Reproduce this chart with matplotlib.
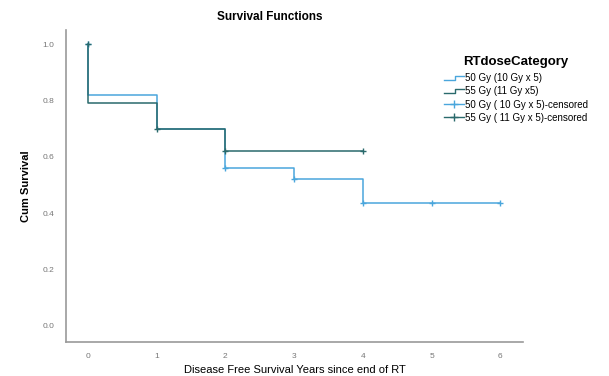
import matplotlib.pyplot as plt
from matplotlib.lines import Line2D
from matplotlib.legend_handler import HandlerBase

plt.rcParams['font.family'] = ['Liberation Sans', 'DejaVu Sans']

# Kaplan-Meier step data (time, survival after step)
t50 = [0, 0, 1, 2, 3, 4, 6]
s50 = [1.0, 0.82, 0.70, 0.56, 0.52, 0.435, 0.435]
t55 = [0, 0, 1, 2, 4]
s55 = [1.0, 0.79, 0.70, 0.62, 0.62]

# censored marks
c50_t = [0, 2, 3, 4, 5, 6]
c50_s = [1.0, 0.56, 0.52, 0.435, 0.435, 0.435]
c55_t = [0, 1, 2, 4]
c55_s = [1.0, 0.70, 0.62, 0.62]

labels = ["50 Gy (10 Gy x 5)", "55 Gy (11 Gy x5)",
          "50 Gy ( 10 Gy x 5)-censored", "55 Gy ( 11 Gy x 5)-censored"]

c_light = "#4aa6dc"
c_dark = "#2a6a6c"
grey = "#9a9a9a"


class StepHandler(HandlerBase):
    def create_artists(self, legend, orig, xd, yd, w, h, fs, trans):
        xs = [xd, xd + w * 0.55, xd + w * 0.55, xd + w]
        ys = [yd + h * 0.2, yd + h * 0.2, yd + h * 0.85, yd + h * 0.85]
        ln = Line2D(xs, ys, color=orig.get_color(), lw=1.0, transform=trans)
        return [ln]


fig = plt.figure(figsize=(6.09, 3.76), dpi=100)
ax = fig.add_axes([0.108, 0.0904, 0.751, 0.83])

ax.plot(t50, s50, drawstyle="steps-post", color=c_light, lw=1.1)
ax.plot(t55, s55, drawstyle="steps-post", color=c_dark, lw=1.1)
ax.plot(c50_t, c50_s, "+", color=c_light, ms=5, mew=1.0)
ax.plot(c55_t, c55_s, "+", color=c_dark, ms=5, mew=1.0)

ax.set_xlim(-0.32, 6.33)
ax.set_ylim(-0.057, 1.05)
ax.set_xticks(range(7))
ax.set_yticks([0.0, 0.2, 0.4, 0.6, 0.8, 1.0])
ax.set_yticklabels(["0.0", "0.2", "0.4", "0.6", "0.8", "1.0"])
ax.tick_params(length=0, labelsize=6, colors="#777777", pad=8)
for s in ["top", "right"]:
    ax.spines[s].set_visible(False)
for s in ["left", "bottom"]:
    ax.spines[s].set_color(grey)
    ax.spines[s].set_linewidth(1.2)

ax.set_ylabel("Cum Survival", fontsize=8, fontweight="bold", labelpad=0)
ax.yaxis.set_label_coords(-0.075, 0.5)
ax.set_xlabel("Disease Free Survival Years since end of RT", fontsize=8)
ax.xaxis.set_label_coords(0.5, -0.075)
fig.text(0.443, 0.955, "Survival Functions", fontsize=8.5, ha="center", va="center",
         fontweight="bold")

handles = [Line2D([], [], color=c_light), Line2D([], [], color=c_dark),
           Line2D([], [], color=c_light, marker="+", ms=6, lw=1.0),
           Line2D([], [], color=c_dark, marker="+", ms=6, lw=1.0)]
leg = fig.legend(handles, labels, loc="upper left", bbox_to_anchor=(0.715, 0.875),
                 frameon=False, fontsize=7, title="RTdoseCategory",
                 handlelength=2.0, handletextpad=0.1, labelspacing=0.32,
                 handler_map={handles[0]: StepHandler(), handles[1]: StepHandler()})
leg.get_title().set_fontweight("bold")
leg.get_title().set_fontsize(9.5)
leg._legend_box.sep = 4

fig.savefig("out.png", dpi=100)
